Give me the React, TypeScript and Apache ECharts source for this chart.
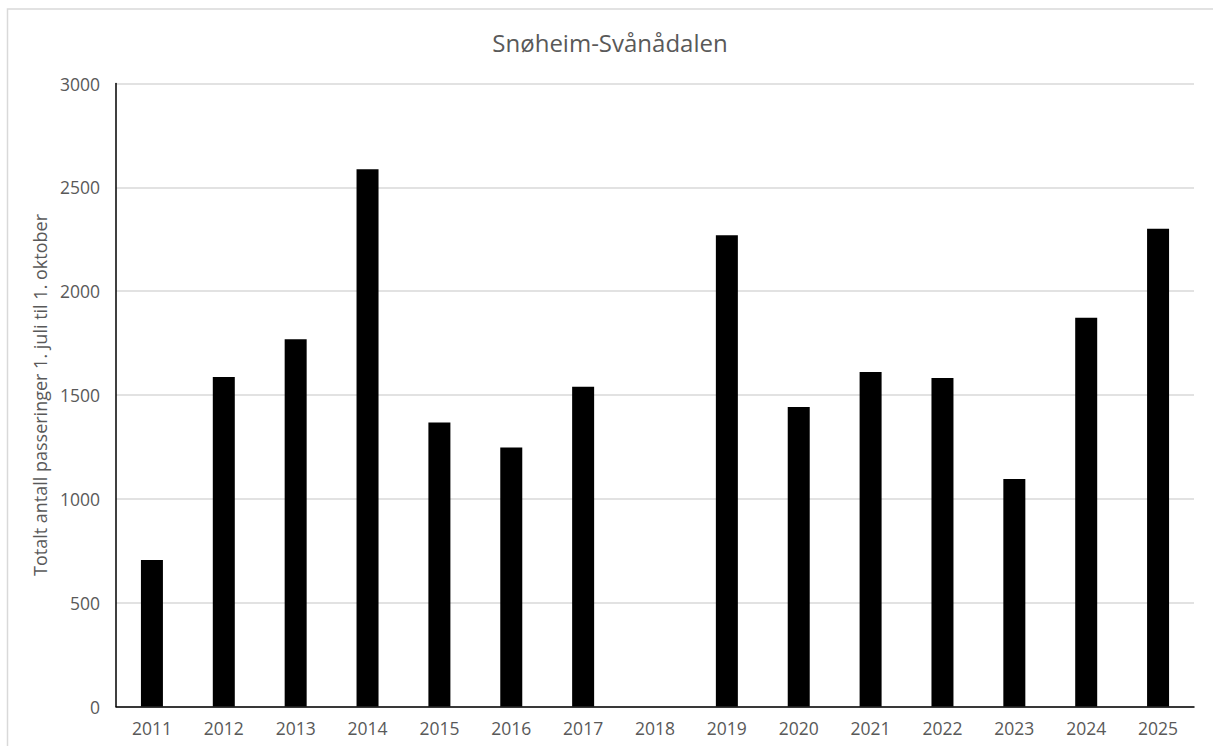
import React, { useEffect, useRef } from "react";
import * as echarts from "echarts";

const chartTitle = "Snøheim-Svånådalen";
const yAxisTitle = "Totalt antall passeringer 1. juli til 1. oktober";
const years = ["2011", "2012", "2013", "2014", "2015", "2016", "2017", "2018", "2019", "2020", "2021", "2022", "2023", "2024", "2025"];
const passages: (number | null)[] = [705, 1587, 1768, 2587, 1367, 1247, 1540, null, 2269, 1442, 1611, 1582, 1096, 1872, 2301];
const yMin = 0;
const yMax = 3000;
const yStep = 500;

const FONT = "'Open Sans', 'Noto Sans', sans-serif";
const TEXT = "#595959";

export default function App() {
  const ref = useRef<HTMLDivElement>(null);
  useEffect(() => {
    if (!ref.current) return;
    const chart = echarts.init(ref.current, undefined, { renderer: "svg" });
    chart.setOption({
      animation: false,
      backgroundColor: "#ffffff",
      textStyle: { fontFamily: FONT },
      grid: { left: 116, right: 19, top: 83.5, bottom: 39.5, containLabel: false },
      graphic: [
        {
          type: "rect",
          shape: { x: 7.5, y: 9, width: 1300, height: 800 },
          style: { fill: "none", stroke: "#d9d9d9", lineWidth: 1.5 },
          silent: true,
          z: -1,
        },
        {
          type: "text",
          x: 610,
          y: 42,
          style: {
            text: chartTitle,
            fontFamily: FONT,
            fontSize: 24,
            fill: TEXT,
            align: "center",
            verticalAlign: "middle",
          },
        },
      ],
      xAxis: {
        type: "category",
        data: years,
        axisLine: { show: true, lineStyle: { color: "#000000", width: 1.5 } },
        axisTick: { show: false },
        axisLabel: { color: TEXT, fontSize: 17.5, fontFamily: FONT, margin: 12 },
        splitLine: { show: false },
      },
      yAxis: {
        type: "value",
        min: yMin,
        max: yMax,
        interval: yStep,
        name: yAxisTitle,
        nameLocation: "middle",
        nameGap: 56,
        nameTextStyle: { color: TEXT, fontSize: 18, fontFamily: FONT },
        axisLine: { show: true, lineStyle: { color: "#000000", width: 1.5 } },
        axisTick: { show: false },
        axisLabel: {
          color: TEXT,
          fontSize: 17.5,
          fontFamily: FONT,
          margin: 16,
          formatter: (v: number) => String(v),
        },
        splitLine: { show: true, lineStyle: { color: "#d9d9d9", width: 1.5 } },
      },
      series: [
        {
          type: "bar",
          data: passages,
          barWidth: 22,
          itemStyle: { color: "#000000" },
        },
      ],
    });
    return () => chart.dispose();
  }, []);
  return (
    <div
      ref={ref}
      style={{ position: "absolute", left: 0, top: 0, width: 1213, height: 746, background: "#fff" }}
    />
  );
}
